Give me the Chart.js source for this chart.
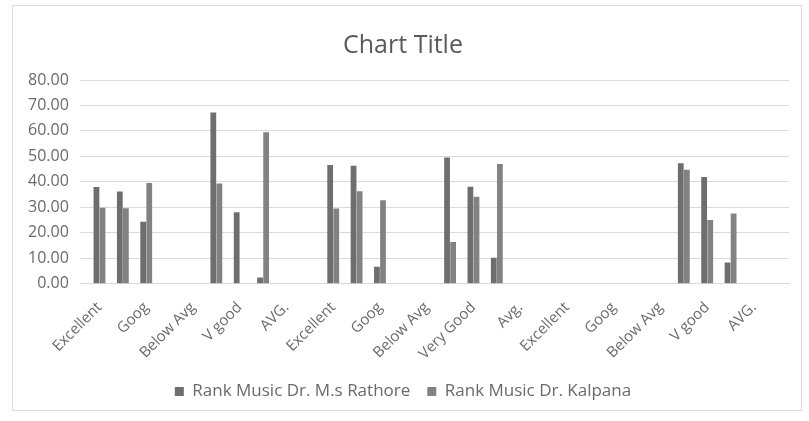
<!DOCTYPE html>
<html>
<head>
<meta charset="utf-8">
<script src="https://cdn.jsdelivr.net/npm/chart.js@4"></script>
<style>
    body { margin: 0; background: #fff; }
    #wrap { position: absolute; left: 12px; top: 5px; width: 788px; height: 404px; border: 1px solid #dcdcdc; }
</style>
</head>
<body>
<div id="wrap"><canvas id="rankChart"></canvas></div>
<script>
// categories (every other label is shown on the axis, as in the original)
const categories = [
    'Excellent', 'V good', 'Goog', 'AVG.', 'Below Avg',
    'Excellent', 'V good', 'Goog', 'AVG.', 'Below Avg',
    'Excellent', 'V good', 'Goog', 'AVG.', 'Below Avg',
    'Excellent', 'Very Good', 'Goog', 'Avg.', 'Below Avg',
    'Excellent', 'V good', 'Goog', 'AVG.', 'Below Avg',
    'Excellent', 'V good', 'Goog', 'AVG.', 'Below Avg'
];
const seriesNames = ['Rank Music Dr. M.s Rathore', 'Rank Music Dr. Kalpana'];
const rathore = [38.0, 36.2, 24.3, null, null, 67.2, 28.0, 2.4, null, null,
    46.6, 46.3, 6.6, null, null, 49.6, 38.1, 10.2, null, null,
    null, null, null, null, null, 47.3, 41.9, 8.3, null, null];
const kalpana = [29.8, 29.6, 39.5, null, null, 39.3, null, 59.5, null, null,
    29.5, 36.3, 32.8, null, null, 16.4, 34.1, 47.0, null, null,
    null, null, null, null, null, 44.7, 25.0, 27.6, null, null];
const yTicks = [0, 10, 20, 30, 40, 50, 60, 70, 80];

document.addEventListener('DOMContentLoaded', function() {
    displayRankChart();
});

function displayRankChart() {
    const ctx = document.getElementById('rankChart').getContext('2d');
    new Chart(ctx, {
        type: 'bar',
        data: {
            labels: categories,
            datasets: [{
                label: seriesNames[0],
                data: rathore,
                backgroundColor: '#6e6e6e',
                categoryPercentage: 0.52,
                barPercentage: 0.95
            }, {
                label: seriesNames[1],
                data: kalpana,
                backgroundColor: '#828282',
                categoryPercentage: 0.52,
                barPercentage: 0.95
            }]
        },
        options: {
            responsive: true,
            maintainAspectRatio: false,
            animation: false,
            layout: { padding: { left: 4, right: 12, top: 12, bottom: 0 } },
            plugins: {
                title: {
                    display: true,
                    text: 'Chart Title',
                    color: '#5a5a5a',
                    font: { family: 'Open Sans', size: 25, weight: 'normal' },
                    padding: { top: 13, bottom: 19 }
                },
                legend: {
                    position: 'bottom',
                    labels: {
                        color: '#6a6a6a',
                        font: { family: 'Open Sans', size: 17 },
                        boxWidth: 9,
                        boxHeight: 9,
                        padding: 17
                    }
                },
                tooltip: { enabled: false }
            },
            scales: {
                x: {
                    grid: { display: false },
                    border: { color: '#d9d9d9' },
                    afterFit: function(axis) {
                        axis.height -= 4;
                    },
                    ticks: {
                        autoSkip: false,
                        maxRotation: 45,
                        minRotation: 45,
                        padding: 7,
                        color: '#6a6a6a',
                        font: { family: 'Open Sans', size: 15 },
                        callback: function(value, index) {
                            return index % 2 === 0 ? categories[index] : '';
                        }
                    }
                },
                y: {
                    min: 0,
                    max: 80,
                    afterBuildTicks: function(axis) {
                        axis.ticks = yTicks.map(v => ({ value: v }));
                    },
                    grid: { color: '#dadada' },
                    border: { display: false },
                    ticks: {
                        color: '#6a6a6a',
                        padding: 11,
                        font: { family: 'Open Sans', size: 16 },
                        callback: v => v.toFixed(2)
                    }
                }
            }
        }
    });
}
</script>
</body>
</html>
